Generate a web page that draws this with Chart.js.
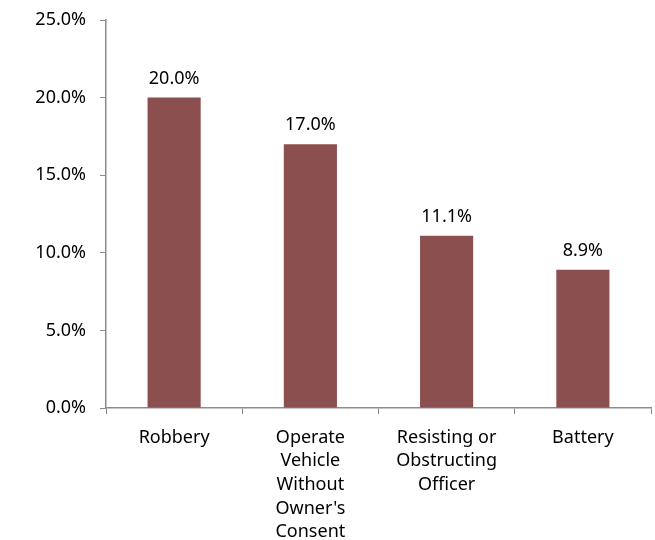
<!DOCTYPE html>
<html>
<head>
<meta charset="utf-8">
<script src="https://cdn.jsdelivr.net/npm/chart.js@4.4.1/dist/chart.umd.min.js"></script>
<style>
  html, body { margin: 0; padding: 0; background: #fff; }
  #wrap { width: 655px; height: 540px; }
</style>
</head>
<body>
<div id="wrap"><canvas id="chart" width="655" height="540"></canvas></div>
<script>
// --- Data ---
const categories = [
    ['Robbery'],
    ['Operate', 'Vehicle', 'Without', "Owner's", 'Consent'],
    ['Resisting or', 'Obstructing', 'Officer'],
    ['Battery']
];
const shares = [20.0, 17.0, 11.1, 8.9];
const yTicks = [0, 5, 10, 15, 20, 25];

const FONT = "'Noto Sans', 'DejaVu Sans', sans-serif";
const FONT_SIZE = 18;
const BAR_COLOR = '#8B4F4F';
const AXIS_COLOR = '#8c8c8c';

// --- Value labels above bars ---
const valueLabels = {
    id: 'valueLabels',
    afterDatasetsDraw(chart) {
        const ctx = chart.ctx;
        const meta = chart.getDatasetMeta(0);
        ctx.save();
        ctx.font = FONT_SIZE + 'px ' + FONT;
        ctx.fillStyle = '#000';
        ctx.textAlign = 'center';
        ctx.textBaseline = 'bottom';
        meta.data.forEach((bar, i) => {
            ctx.fillText(shares[i].toFixed(1) + '%', bar.x, bar.y - 10);
        });
        ctx.restore();
    }
};

new Chart(document.getElementById('chart'), {
    type: 'bar',
    data: {
        labels: categories,
        datasets: [{
            data: shares,
            backgroundColor: BAR_COLOR,
            categoryPercentage: 1.0,
            barPercentage: 0.39
        }]
    },
    options: {
        responsive: false,
        animation: false,
        layout: { padding: { top: 20, right: 4, left: 0, bottom: 0 } },
        plugins: { legend: { display: false }, tooltip: { enabled: false } },
        scales: {
            x: {
                grid: { display: true, drawOnChartArea: false, drawTicks: true, tickLength: 6, color: AXIS_COLOR, offset: true },
                border: { color: AXIS_COLOR, width: 1.5 },
                ticks: { color: '#000', font: { family: FONT, size: FONT_SIZE, lineHeight: 1.31 }, maxRotation: 0, autoSkip: false, padding: 12 },
                afterFit(scale) { scale.height = 132; }
            },
            y: {
                min: 0,
                max: 25,
                afterBuildTicks(scale) { scale.ticks = yTicks.map(v => ({ value: v })); },
                grid: { display: true, drawOnChartArea: false, drawTicks: true, tickLength: 6, color: AXIS_COLOR },
                border: { color: AXIS_COLOR, width: 1.5 },
                ticks: {
                    color: '#000',
                    font: { family: FONT, size: FONT_SIZE },
                    padding: 14,
                    callback: v => v.toFixed(1) + '%'
                },
                afterFit(scale) { scale.width = 106; scale.paddingTop = 0; scale.paddingBottom = 0; }
            }
        }
    },
    plugins: [valueLabels]
});
</script>
</body>
</html>
